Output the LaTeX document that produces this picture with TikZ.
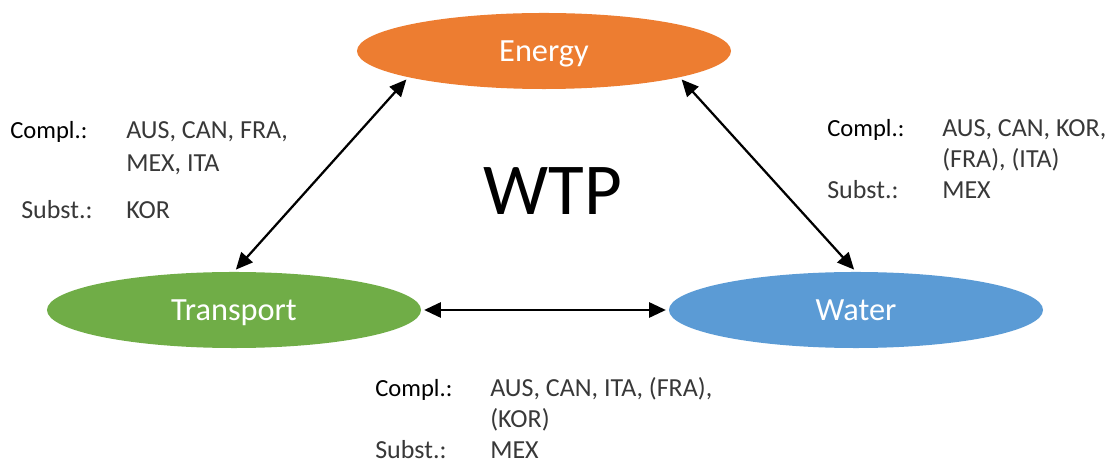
\documentclass[tikz,border=0pt]{standalone}
\usepackage{fontspec}
\setmainfont{Carlito}
\usetikzlibrary{arrows.meta}
\usetikzlibrary{shapes.geometric}

\definecolor{energyorange}{HTML}{ED7D31}
\definecolor{transportgreen}{HTML}{70AD47}
\definecolor{waterblue}{HTML}{5B9BD5}
\definecolor{lighttext}{HTML}{383838}

\begin{document}
\begin{tikzpicture}[x=0.025cm, y=-0.025cm,
    sector/.style={ellipse, inner sep=0pt, minimum width=9.35cm, minimum height=1.9cm,
        text=white, font=\fontsize{23pt}{26pt}\selectfont, text height=0.51cm, text depth=0pt},
    link/.style={{Triangle[length=0.42cm,width=0.38cm]}-{Triangle[length=0.42cm,width=0.38cm]},
        line width=1.6pt, shorten <=2pt, shorten >=2pt},
    keylbl/.style={anchor=base west, inner sep=0pt, font=\fontsize{17.5pt}{20pt}\selectfont},
    vallbl/.style={keylbl, text=lighttext, font=\fontsize{18.5pt}{21pt}\selectfont}
]
    \useasboundingbox (0,0) rectangle (1113,464);

    % sectors
    \node[sector, fill=energyorange] (energy) at (544,51) {Energy};
    \node[sector, fill=transportgreen] (transport) at (234,310) {Transport};
    \node[sector, fill=waterblue] (water) at (856,310) {Water};

    \node[anchor=base, inner sep=0pt, font=\fontsize{52pt}{60pt}\selectfont] (wtp) at (553,215) {WTP};

    % links
    \draw[link] (transport.north) -- (energy.191);
    \draw[link] (water.north) -- (energy.349);
    \draw[link] (transport.east) -- (water.west);

    % energy - transport
    \node[keylbl] (etk1) at (10,139) {Compl.:};
    \node[vallbl] (etv1) at (126,139) {AUS, CAN, FRA,};
    \node[vallbl] (etv2) at (126,172) {MEX, ITA};
    \node[vallbl] (etk2) at (21,219) {Subst.:};
    \node[vallbl] (etv3) at (126,219) {KOR};

    % energy - water
    \node[keylbl] (ewk1) at (827,137) {Compl.:};
    \node[vallbl] (ewv1) at (942,137) {AUS, CAN, KOR,};
    \node[vallbl] (ewv2) at (942,168) {(FRA), (ITA)};
    \node[vallbl] (ewk2) at (827,199) {Subst.:};
    \node[vallbl] (ewv3) at (942,199) {MEX};

    % transport - water
    \node[keylbl] (twk1) at (375,397) {Compl.:};
    \node[vallbl] (twv1) at (490,397) {AUS, CAN, ITA, (FRA),};
    \node[vallbl] (twv2) at (490,428) {(KOR)};
    \node[vallbl] (twk2) at (375,459) {Subst.:};
    \node[vallbl] (twv3) at (490,459) {MEX};
\end{tikzpicture}
\end{document}
